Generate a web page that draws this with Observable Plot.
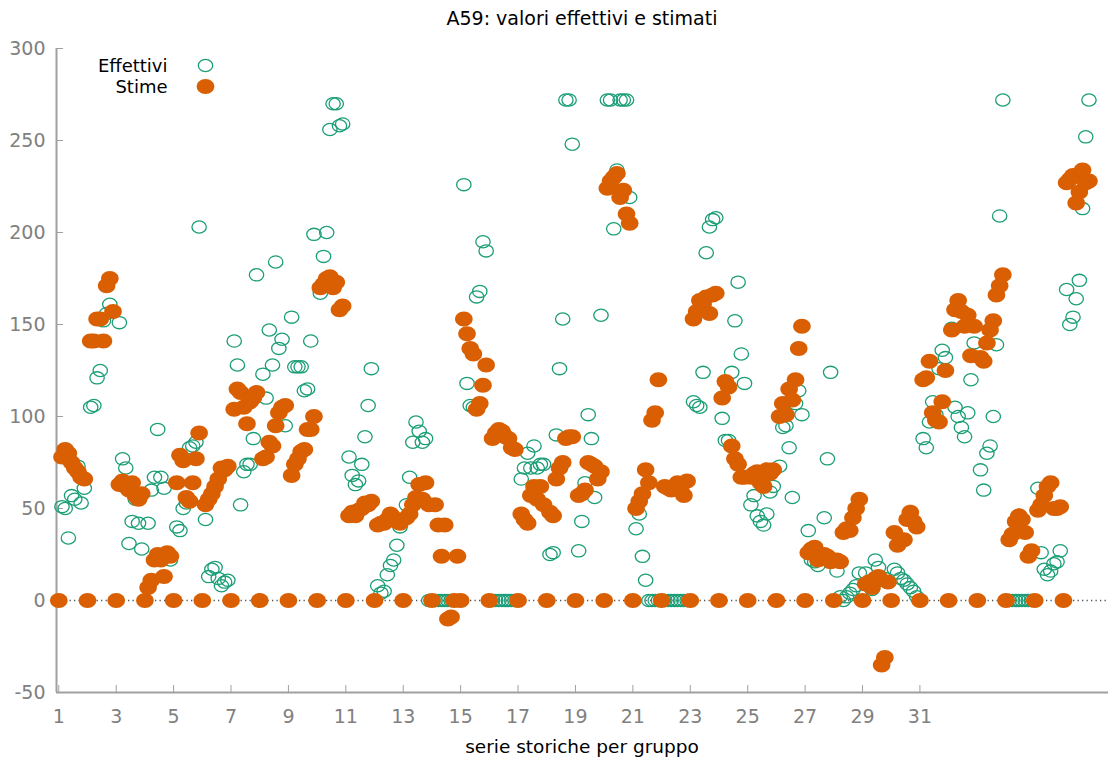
<!DOCTYPE html>
<html><head><meta charset="utf-8">
<script src="https://cdn.jsdelivr.net/npm/d3@7"></script>
<script src="https://cdn.jsdelivr.net/npm/@observablehq/plot@0.6"></script>
<style>
body{margin:0;background:#fff;font-family:"DejaVu Sans",sans-serif;}
#title{height:36px;line-height:36px;padding-left:56px;width:1052px;text-align:center;font-size:19px;color:#000;}
#xlabel{height:22px;line-height:22px;padding-left:56px;width:1052px;text-align:center;font-size:18.5px;color:#000;}
svg{display:block;}
</style></head>
<body>
<div id="title">A59: valori effettivi e stimati</div>
<div id="chart"></div>
<div id="xlabel">serie storiche per gruppo</div>
<script>
// Panel: 36 groups, 9 observations each (x = group + t/9)
const obsPerGroup = 9;
const effettivi = [
  [0, 51, 50, 34, 57, 55, 73, 53, 61],
  [0, 105, 106, 121, 125, 152, 156, 161, 157],
  [0, 151, 77, 72, 31, 43, 55, 42, 28],
  [0, 42, 60, 67, 93, 67, 61, 24, 22],
  [0, 40, 38, 50, 53, 83, 84, 86, 203],
  [0, 44, 13, 17, 18, 12, 8, 10, 11],
  [0, 141, 128, 52, 70, 74, 74, 88, 177],
  [0, 123, 110, 147, 128, 184, 137, 142, 95],
  [0, 154, 127, 127, 127, 114, 115, 141, 199],
  [0, 167, 187, 200, 256, 270, 270, 258, 259],
  [0, 78, 68, 63, 65, 74, 89, 106, 126],
  [0, 8, 4, 5, 14, 19, 22, 30, 40],
  [0, 52, 67, 86, 97, 92, 86, 88, 0],
  [0, 0, 0, 0, 0, 0, 0, 0, 0],
  [0, 226, 118, 106, 105, 165, 168, 195, 190],
  [0, 0, 0, 0, 0, 0, 0, 0, 0],
  [0, 66, 72, 80, 72, 84, 72, 74, 74],
  [0, 25, 26, 90, 126, 153, 272, 272, 248],
  [0, 27, 43, 64, 101, 88, 56, 66, 155],
  [0, 272, 272, 202, 234, 272, 272, 272, 219],
  [0, 39, 47, 24, 11, 0, 0, 0, 0],
  [0, 0, 0, 0, 0, 0, 0, 0, 0],
  [0, 108, 106, 105, 124, 189, 203, 207, 208],
  [0, 99, 87, 87, 124, 152, 173, 134, 118],
  [0, 52, 57, 46, 43, 41, 47, 59, 62],
  [0, 73, 94, 95, 83, 56, 107, 114, 101],
  [0, 38, 22, 21, 19, 24, 45, 77, 124],
  [0, 16, 2, 0, 2, 4, 6, 8, 15],
  [0, 15, 8, 6, 22, 18, 11, 12, 10],
  [0, 17, 15, 12, 11, 9, 7, 5, 2],
  [0, 88, 83, 97, 108, 101, 126, 136, 132],
  [0, 148, 105, 100, 94, 89, 102, 120, 140],
  [0, 71, 60, 80, 84, 100, 139, 209, 272],
  [0, 0, 0, 0, 0, 0, 0, 0, 0],
  [0, 61, 26, 17, 14, 16, 20, 21, 27],
  [0, 169, 150, 154, 164, 174, 213, 252, 272]
];
const stime = [
  [0, 78, 82, 80, 75, 72, 70, 67, 66],
  [0, 141, 141, 153, 153, 141, 171, 175, 157],
  [0, 63, 65, 62, 60, 64, 57, 55, 58],
  [0, 7, 11, 22, 25, 22, 13, 26, 24],
  [0, 64, 79, 76, 56, 54, 64, 77, 91],
  [0, 52, 55, 58, 62, 66, 72, 71, 73],
  [0, 104, 115, 113, 105, 96, 108, 110, 113],
  [0, 77, 78, 86, 84, 95, 102, 105, 106],
  [0, 68, 74, 77, 81, 82, 93, 93, 100],
  [0, 170, 172, 175, 176, 170, 173, 158, 160],
  [0, 46, 48, 46, 49, 50, 53, 52, 54],
  [0, 41, 42, 42, 44, 47, 45, 43, 42],
  [0, 45, 47, 52, 56, 63, 55, 64, 52],
  [0, 52, 41, 24, 41, -10, -9, 0, 24],
  [0, 153, 145, 137, 134, 104, 107, 117, 128],
  [0, 88, 91, 93, 92, 89, 88, 83, 82],
  [0, 47, 44, 42, 57, 62, 55, 62, 52],
  [0, 48, 46, 66, 72, 75, 88, 89, 89],
  [0, 57, 58, 60, 75, 74, 73, 66, 70],
  [0, 224, 228, 230, 232, 219, 223, 210, 205],
  [0, 50, 54, 58, 71, 64, 98, 102, 120],
  [0, 62, 61, 60, 62, 64, 60, 57, 65],
  [0, 153, 157, 163, 161, 165, 156, 166, 167],
  [0, 110, 119, 116, 84, 77, 74, 67, 67],
  [0, 67, 69, 70, 64, 62, 71, 69, 71],
  [0, 100, 107, 101, 115, 109, 120, 137, 149],
  [0, 26, 28, 29, 22, 23, 25, 24, 21],
  [0, 22, 21, 37, 39, 38, 45, 50, 55],
  [0, 9, 10, 7, 12, 13, -35, -31, 10],
  [0, 37, 30, 33, 33, 44, 48, 43, 40],
  [0, 120, 121, 130, 102, 98, 97, 108, 125],
  [0, 147, 158, 163, 157, 149, 155, 133, 149],
  [0, 132, 130, 140, 147, 152, 166, 171, 177],
  [0, 33, 36, 43, 46, 44, 37, 24, 27],
  [0, 49, 52, 57, 62, 64, 50, 50, 51],
  [0, 227, 229, 231, 216, 222, 234, 227, 228]
];
const xTicks = [1, 3, 5, 7, 9, 11, 13, 15, 17, 19, 21, 23, 25, 27, 29, 31];
const yTicks = [-50, 0, 50, 100, 150, 200, 250, 300];
const xDomain = [0.92, 37.57];
const yDomain = [-50, 300];
const seriesNames = ["Effettivi", "Stime"];

const colEff = "#1b9e77", colSt = "#d95f02";

function ellipseSymbol(rx, ry) {
  return {draw(ctx) {
    const k = 0.5523, a = rx, b = ry;
    ctx.moveTo(a, 0);
    ctx.bezierCurveTo(a, k*b, k*a, b, 0, b);
    ctx.bezierCurveTo(-k*a, b, -a, k*b, -a, 0);
    ctx.bezierCurveTo(-a, -k*b, -k*a, -b, 0, -b);
    ctx.bezierCurveTo(k*a, -b, a, -k*b, a, 0);
    ctx.closePath();
  }};
}
const ringSym = ellipseSymbol(7.2, 6.1);
const dotSym = ellipseSymbol(8.8, 7.5);

const rows = [];
effettivi.forEach((arr, gi) => {
  arr.forEach((v, t) => {
    rows.push({x: gi + 1 + t / obsPerGroup, eff: v, st: stime[gi][t]});
  });
});

const chart = Plot.plot({
  width: 1108, height: 700,
  marginLeft: 56, marginRight: 0, marginTop: 12, marginBottom: 44,
  style: {fontFamily: "DejaVu Sans, sans-serif", fontSize: "19px", background: "#fff", color: "#808080"},
  x: {domain: xDomain, label: null},
  y: {domain: yDomain, label: null},
  marks: [
    Plot.ruleY([0], {stroke: "#555", strokeWidth: 1.3, strokeDasharray: "1.3,3.2"}),
    Plot.axisX({ticks: xTicks, tickSize: -7, tickPadding: 24, tickFormat: d => String(d), stroke: "#a0a0a0", fill: "#808080", label: null}),
    Plot.axisY({ticks: yTicks, tickSize: -7, tickPadding: 18, tickFormat: d => String(d), stroke: "#a0a0a0", fill: "#808080", label: null}),
    Plot.ruleX([xDomain[0]], {stroke: "#a0a0a0", strokeWidth: 2}),
    Plot.ruleY([yDomain[0]], {stroke: "#a0a0a0", strokeWidth: 2}),
    Plot.dot(rows, {x: "x", y: "eff", symbol: ringSym, stroke: colEff, strokeWidth: 1.3, fill: "none"}),
    Plot.dot(rows, {x: "x", y: "st", symbol: dotSym, fill: colSt, stroke: "none"}),
    // legend
    Plot.text([seriesNames[0]], {text: d => d, frameAnchor: "top-left", lineAnchor: "middle", dx: 111, dy: 18, textAnchor: "end", fill: "#000", fontSize: 18}),
    Plot.text([seriesNames[1]], {text: d => d, frameAnchor: "top-left", lineAnchor: "middle", dx: 111, dy: 39, textAnchor: "end", fill: "#000", fontSize: 18}),
    Plot.dot([seriesNames[0]], {frameAnchor: "top-left", dx: 149, dy: 17, symbol: ringSym, stroke: colEff, strokeWidth: 1.3, fill: "none"}),
    Plot.dot([seriesNames[1]], {frameAnchor: "top-left", dx: 149, dy: 38, symbol: dotSym, fill: colSt, stroke: "none"})
  ]
});
document.getElementById("chart").appendChild(chart);
</script>
</body></html>
